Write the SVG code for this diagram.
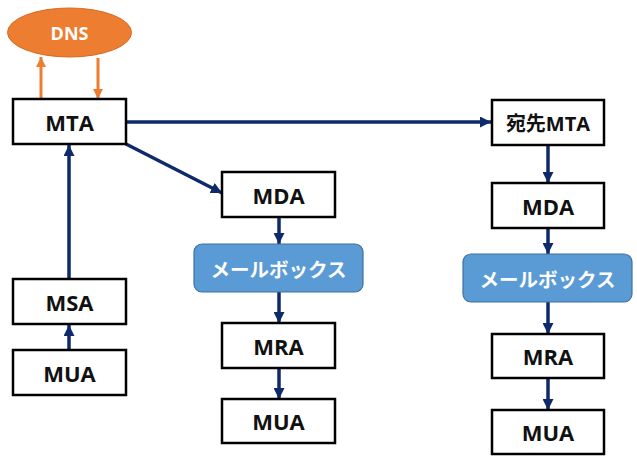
<svg xmlns="http://www.w3.org/2000/svg" width="637" height="463" viewBox="0 0 637 463">
<defs>
<marker id="nav" viewBox="0 0 10 10" refX="10" refY="5" markerWidth="11" markerHeight="11" markerUnits="userSpaceOnUse" orient="auto"><path d="M0,0 L10,5 L0,10 z" fill="#0E2A6B"/></marker>
<marker id="org" viewBox="0 0 10 10" refX="10" refY="5" markerWidth="10" markerHeight="10" markerUnits="userSpaceOnUse" orient="auto"><path d="M0,0 L10,5 L0,10 z" fill="#ED7D31"/></marker>
<style>
.box{fill:#fff;stroke:#000;stroke-width:2.5}
.mb{fill:#5B9BD5;stroke:#41719C;stroke-width:1.2}
.t{font-family:"Open Sans","Noto Sans CJK JP",sans-serif;font-weight:bold;font-size:22px;fill:#111;text-anchor:middle;dominant-baseline:central}
.tw{font-family:"Noto Sans CJK JP","Open Sans",sans-serif;font-weight:bold;font-size:19.5px;fill:#fff;text-anchor:middle;dominant-baseline:central}
.tj{font-family:"Open Sans","Noto Sans CJK JP",sans-serif;font-weight:bold;font-size:20px;fill:#111;text-anchor:middle;dominant-baseline:central}
.a{stroke:#0E2A6B;stroke-width:3.5;fill:none;marker-end:url(#nav)}
.o{stroke:#ED7D31;stroke-width:3;fill:none;marker-end:url(#org)}
</style>
</defs>
<rect width="637" height="463" fill="#fff"/>
<g id="connectors">
<line class="o" x1="41" y1="99" x2="41" y2="57"/>
<line class="o" x1="98" y1="58" x2="98" y2="99"/>
<line class="a" x1="126" y1="122" x2="491" y2="122"/>
<line class="a" x1="126" y1="144" x2="222" y2="193"/>
<line class="a" x1="279" y1="217" x2="279" y2="244"/>
<line class="a" x1="279" y1="292" x2="279" y2="323"/>
<line class="a" x1="279" y1="368" x2="279" y2="399"/>
<line class="a" x1="69" y1="279" x2="69" y2="145"/>
<line class="a" x1="69" y1="350" x2="69" y2="325"/>
<line class="a" x1="548" y1="145" x2="548" y2="183"/>
<line class="a" x1="548" y1="228" x2="548" y2="254"/>
<line class="a" x1="548" y1="302" x2="548" y2="334"/>
<line class="a" x1="548" y1="378" x2="548" y2="410"/>
</g>
<g id="dns"><ellipse cx="69.5" cy="32.5" rx="62" ry="24.5" fill="#ED7D31" stroke="#D86A22" stroke-width="1"/><text class="tw" x="69.5" y="33" style="font-family:'Open Sans',sans-serif;font-size:18px">DNS</text></g>
<g id="mta"><rect class="box" x="13" y="99" width="113" height="45"/><text class="t" x="69.5" y="122">MTA</text></g>
<g id="msa"><rect class="box" x="13" y="279" width="113" height="45"/><text class="t" x="69.5" y="302">MSA</text></g>
<g id="mua1"><rect class="box" x="13" y="350" width="113" height="45"/><text class="t" x="69.5" y="373">MUA</text></g>
<g id="mda1"><rect class="box" x="222" y="172" width="113" height="45"/><text class="t" x="278.5" y="195">MDA</text></g>
<g id="mbox1"><rect class="mb" x="194" y="244" width="169" height="48" rx="8"/><text class="tw" x="278.5" y="268">メールボックス</text></g>
<g id="mra1"><rect class="box" x="222" y="323" width="113" height="45"/><text class="t" x="278.5" y="346">MRA</text></g>
<g id="mua2"><rect class="box" x="222" y="399" width="113" height="44"/><text class="t" x="278.5" y="421">MUA</text></g>
<g id="dstmta"><rect class="box" x="492" y="100" width="112" height="45"/><text class="tj" x="548" y="123">宛先MTA</text></g>
<g id="mda2"><rect class="box" x="492" y="183" width="112" height="45"/><text class="t" x="548" y="206">MDA</text></g>
<g id="mbox2"><rect class="mb" x="463" y="254" width="169" height="48" rx="8"/><text class="tw" x="547.5" y="278">メールボックス</text></g>
<g id="mra2"><rect class="box" x="492" y="334" width="112" height="44"/><text class="t" x="548" y="356">MRA</text></g>
<g id="mua3"><rect class="box" x="492" y="410" width="112" height="44"/><text class="t" x="548" y="432">MUA</text></g>
</svg>
